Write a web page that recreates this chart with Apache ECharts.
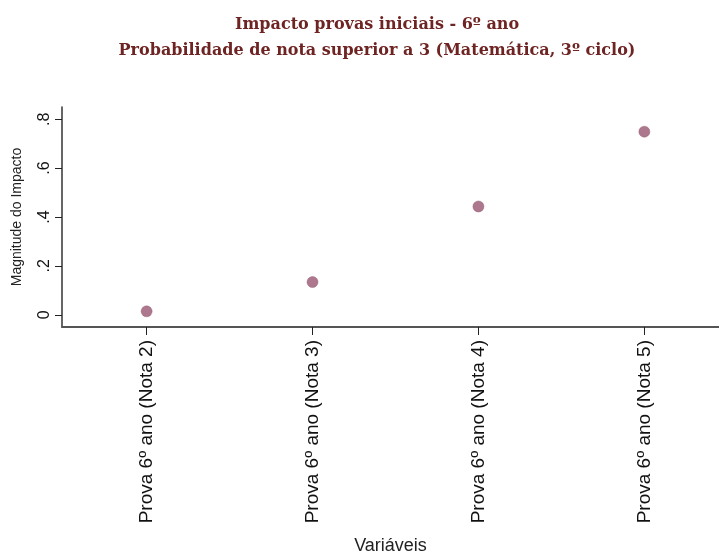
<!DOCTYPE html>
<html>
<head>
<meta charset="utf-8">
<script src="https://cdn.jsdelivr.net/npm/echarts@6/dist/echarts.min.js"></script>
<style>html,body{margin:0;padding:0;background:#fff}#c{width:719px;height:554px}</style>
</head>
<body>
<div id="c"></div>
<script>
const categories = ['Prova 6º ano (Nota 2)', 'Prova 6º ano (Nota 3)', 'Prova 6º ano (Nota 4)', 'Prova 6º ano (Nota 5)'];
const positions = [1, 2, 3, 4];
const values = [0.014, 0.134, 0.443, 0.749];
const yTicks = [0, 0.2, 0.4, 0.6, 0.8];
const yTickLabels = ['0', '.2', '.4', '.6', '.8'];
const titleLines = ['Impacto provas iniciais - 6º ano', 'Probabilidade de nota superior a 3 (Matemática, 3º ciclo)'];

const chart = echarts.init(document.getElementById('c'), null, {renderer: 'canvas', width: 719, height: 554});
chart.setOption({
  backgroundColor: '#fff',
  animation: false,
  title: {
    text: titleLines.join('\n'),
    left: 372, top: 7, textAlign: 'center',
    textStyle: {fontFamily: 'DejaVu Serif', fontWeight: 'bold', fontSize: 16, color: '#6e2423', lineHeight: 26}
  },
  grid: {left: 62, top: 107, right: 0, bottom: 227, containLabel: false, outerBoundsMode: 'none'},
  xAxis: {
    type: 'value', min: 0.49, max: 4.45,
    name: 'Variáveis', nameLocation: 'middle', nameGap: 210,
    nameTextStyle: {fontFamily: 'Liberation Sans', fontSize: 18, color: '#222'},
    splitLine: {show: false},
    axisLine: {show: true, onZero: false, lineStyle: {color: '#555', width: 2}},
    axisTick: {show: true, customValues: positions, length: 8, lineStyle: {color: '#222'}},
    axisLabel: {
      customValues: positions, rotate: 90, margin: 13,
      fontFamily: 'Liberation Sans', fontSize: 19, color: '#111',
      formatter: v => categories[positions.indexOf(v)] || ''
    }
  },
  yAxis: {
    type: 'value', min: -0.05, max: 0.85,
    name: 'Magnitude do Impacto', nameLocation: 'middle', nameGap: 38, nameRotate: 90,
    nameTextStyle: {fontFamily: 'Liberation Sans', fontSize: 14, color: '#222'},
    splitLine: {show: false},
    axisLine: {show: true, onZero: false, lineStyle: {color: '#333', width: 1.5}},
    axisTick: {show: true, customValues: yTicks, length: 7, lineStyle: {color: '#222'}},
    axisLabel: {
      customValues: yTicks, rotate: 90, margin: 9,
      fontFamily: 'Liberation Sans', fontSize: 16, color: '#111',
      formatter: v => yTickLabels[yTicks.indexOf(v)] ?? ''
    }
  },
  series: [{
    type: 'scatter',
    data: positions.map((p, i) => [p, values[i]]),
    symbolSize: 11,
    itemStyle: {color: '#985670', borderColor: '#8a4a62', borderWidth: 0.5}
  }]
});
</script>
</body>
</html>
